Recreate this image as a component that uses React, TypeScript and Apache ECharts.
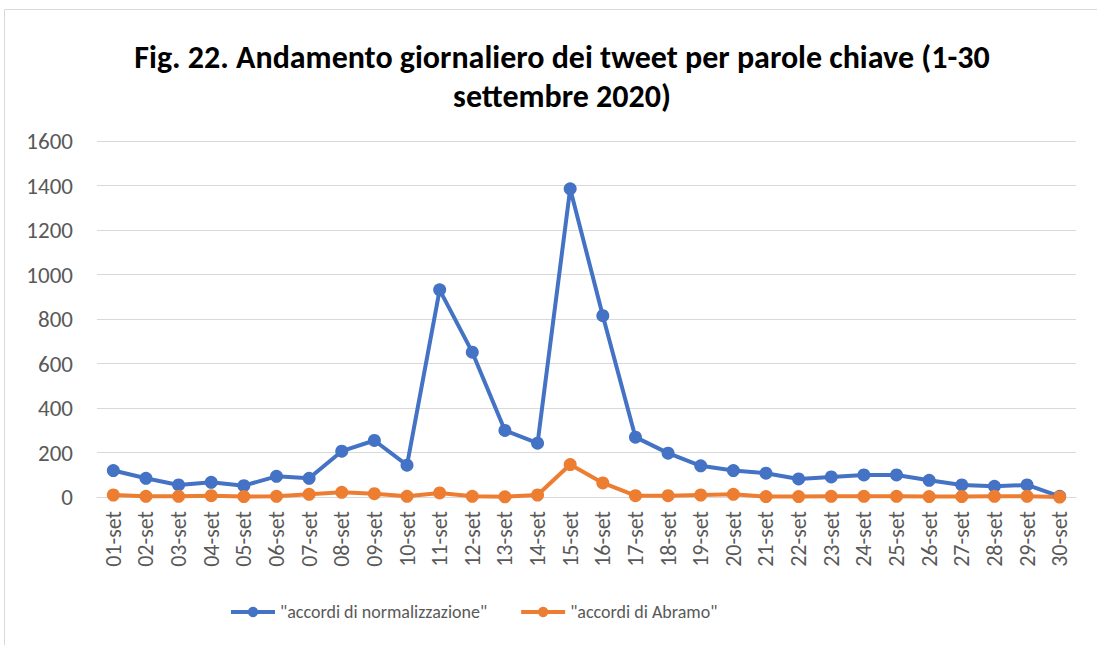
import React, { useEffect, useRef } from "react";
import * as echarts from "echarts";

const categories = [
  "01-set", "02-set", "03-set", "04-set", "05-set", "06-set", "07-set", "08-set", "09-set", "10-set",
  "11-set", "12-set", "13-set", "14-set", "15-set", "16-set", "17-set", "18-set", "19-set", "20-set",
  "21-set", "22-set", "23-set", "24-set", "25-set", "26-set", "27-set", "28-set", "29-set", "30-set",
];

const normalizzazione = [
  119, 84, 54, 66, 51, 93, 84, 206, 254, 143,
  931, 651, 299, 242, 1385, 815, 269, 197, 140, 119,
  107, 81, 90, 99, 99, 75, 54, 48, 54, 3,
];

const abramo = [
  9, 3, 3, 6, 2, 3, 12, 21, 15, 3,
  18, 3, 1, 9, 146, 63, 6, 6, 9, 12,
  2, 2, 3, 3, 3, 2, 2, 3, 3, 0,
];

const seriesNames = ['"accordi di normalizzazione"', '"accordi di Abramo"'];
const titleText = "Fig. 22. Andamento giornaliero dei tweet per parole chiave (1-30\nsettembre 2020)";

const FONT = "Carlito, 'Noto Sans', sans-serif";

export default function App() {
  const ref = useRef<HTMLDivElement>(null);
  useEffect(() => {
    if (!ref.current) return;
    const chart = echarts.init(ref.current, null, { renderer: "svg" });
    chart.setOption({
      animation: false,
      backgroundColor: "#ffffff",
      textStyle: { fontFamily: FONT },
      title: {
        text: titleText,
        left: 557,
        textAlign: "center",
        top: 33,
        textStyle: {
          fontFamily: FONT,
          fontSize: 32,
          fontWeight: "bold",
          color: "#000000",
          lineHeight: 39,
        },
      },
      graphic: [
        {
          type: "rect",
          shape: { x: 4.5, y: 9.5, width: 1200, height: 800 },
          style: { fill: "none", stroke: "#D9D9D9", lineWidth: 1 },
          silent: true,
          z: -1,
        },
      ],
      legend: {
        top: 598,
        left: 224,
        itemWidth: 44,
        itemHeight: 13,
        itemGap: 32,
        lineStyle: { width: 4 },
        textStyle: { fontFamily: FONT, fontSize: 18, color: "#595959" },
        data: seriesNames,
      },
      grid: { left: 97, right: 21, top: 141, bottom: 148 },
      xAxis: {
        type: "category",
        data: categories,
        boundaryGap: true,
        axisLine: { lineStyle: { color: "#D9D9D9" } },
        axisTick: { show: false },
        axisLabel: {
          rotate: 90,
          interval: 0,
          color: "#595959",
          fontSize: 22,
          margin: 14,
          fontFamily: FONT,
        },
      },
      yAxis: {
        type: "value",
        min: 0,
        max: 1600,
        interval: 200,
        axisLine: { show: false },
        axisTick: { show: false },
        splitLine: { lineStyle: { color: "#D9D9D9", width: 1 } },
        axisLabel: {
          color: "#595959",
          fontSize: 23,
          margin: 24,
          fontFamily: FONT,
          formatter: (v: number) => String(v),
        },
      },
      series: [
        {
          name: seriesNames[0],
          type: "line",
          data: normalizzazione,
          symbol: "circle",
          symbolSize: 13,
          lineStyle: { color: "#4472C4", width: 4 },
          itemStyle: { color: "#4472C4" },
        },
        {
          name: seriesNames[1],
          type: "line",
          data: abramo,
          symbol: "circle",
          symbolSize: 13,
          lineStyle: { color: "#ED7D31", width: 4 },
          itemStyle: { color: "#ED7D31" },
        },
      ],
    });
    return () => chart.dispose();
  }, []);
  return (
    <div
      ref={ref}
      style={{ position: "fixed", left: 0, top: 0, width: 1097, height: 645 }}
    />
  );
}
